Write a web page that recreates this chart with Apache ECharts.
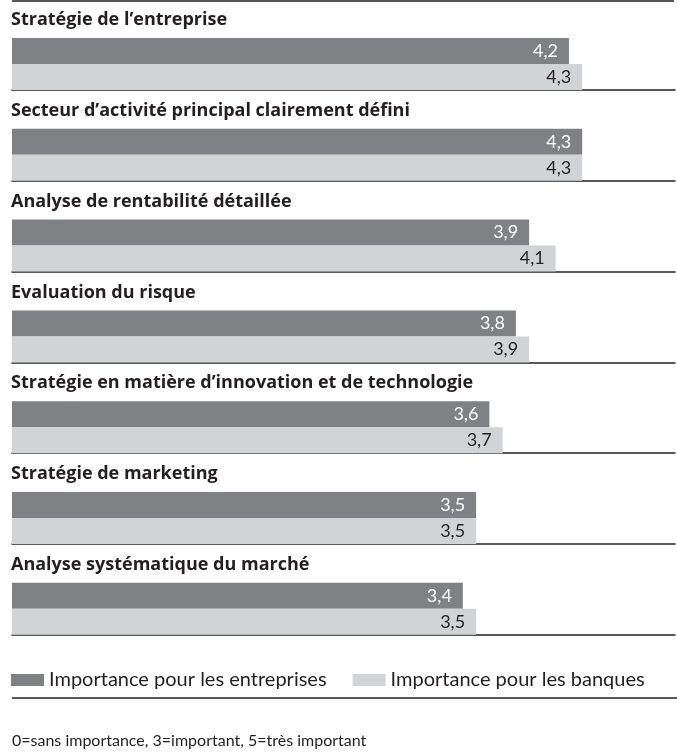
<!DOCTYPE html>
<html>
<head>
<meta charset="utf-8">
<script src="https://cdn.jsdelivr.net/npm/echarts@6/dist/echarts.min.js"></script>
<style>
  html, body { margin: 0; padding: 0; background: #fff; }
  #chart { width: 677px; height: 755px; }
</style>
</head>
<body>
<div id="chart"></div>
<script>
const categories = [
  'Stratégie de l’entreprise',
  'Secteur d’activité principal clairement défini',
  'Analyse de rentabilité détaillée',
  'Evaluation du risque',
  'Stratégie en matière d’innovation et de technologie',
  'Stratégie de marketing',
  'Analyse systématique du marché'
];
const entreprises = [4.2, 4.3, 3.9, 3.8, 3.6, 3.5, 3.4];
const banques = [4.3, 4.3, 4.1, 3.9, 3.7, 3.5, 3.5];
const seriesNames = ['Importance pour les entreprises', 'Importance pour les banques'];
const footnote = '0=sans importance, 3=important, 5=très important';

const FONT = 'Lato';
const DARK = '#808184';
const LIGHT = '#d1d3d4';

const chart = echarts.init(document.getElementById('chart'));

const pitch = 90.8;
const firstTop = 38;
const barBlock = 52;

const grids = [];
const xAxes = [];
const yAxes = [];
const titles = [];
const series = [];

const fmt = v => v.toFixed(1).replace('.', ',');

categories.forEach((cat, i) => {
  const top = firstTop + i * pitch;
  grids.push({ left: 12, width: 663, top: top, height: barBlock });
  xAxes.push({
    gridIndex: i,
    type: 'value',
    min: 0,
    max: 5,
    axisLine: { show: true, onZero: false, lineStyle: { color: '#222', width: 1.5 } },
    axisTick: { show: false },
    axisLabel: { show: false },
    splitLine: { show: false }
  });
  yAxes.push({
    gridIndex: i,
    type: 'category',
    inverse: true,
    data: [cat],
    axisLine: { show: false },
    axisTick: { show: false },
    axisLabel: { show: false }
  });
  titles.push({
    text: cat,
    left: 11,
    top: top - 27,
    padding: 0,
    textStyle: { fontFamily: 'Open Sans', fontWeight: 'bold', fontSize: 18, color: '#231f20' }
  });
  series.push({
    name: seriesNames[0],
    type: 'bar',
    xAxisIndex: i,
    yAxisIndex: i,
    barGap: 0,
    barCategoryGap: 0,
    data: [entreprises[i]],
    itemStyle: { color: DARK },
    label: {
      show: true,
      position: 'insideRight',
      distance: 11,
      formatter: p => fmt(p.value),
      fontFamily: FONT,
      fontSize: 18,
      color: '#fff'
    },
    silent: true
  });
  series.push({
    name: seriesNames[1],
    type: 'bar',
    xAxisIndex: i,
    yAxisIndex: i,
    barGap: 0,
    barCategoryGap: 0,
    data: [banques[i]],
    itemStyle: { color: LIGHT },
    label: {
      show: true,
      position: 'insideRight',
      distance: 11,
      formatter: p => fmt(p.value),
      fontFamily: FONT,
      fontSize: 18,
      color: '#231f20'
    },
    silent: true
  });
});

chart.setOption({
  animation: false,
  title: titles,
  grid: grids,
  xAxis: xAxes,
  yAxis: yAxes,
  series: series,
  legend: {
    data: seriesNames,
    left: 11,
    top: 670,
    padding: 0,
    icon: 'rect',
    itemWidth: 33,
    itemHeight: 12,
    itemGap: 26,
    selectedMode: false,
    textStyle: { fontFamily: FONT, fontSize: 20, color: '#231f20' }
  },
  graphic: [
    {
      type: 'line',
      shape: { x1: 12, y1: 1, x2: 674, y2: 1 },
      style: { stroke: '#58585a', lineWidth: 2 }
    },
    {
      type: 'line',
      shape: { x1: 12, y1: 698, x2: 677, y2: 698 },
      style: { stroke: '#222', lineWidth: 1.5 }
    },
    {
      type: 'text',
      left: 12,
      top: 733,
      style: { text: footnote, fontFamily: FONT, fontSize: 16, fill: '#231f20' }
    }
  ]
});
</script>
</body>
</html>
